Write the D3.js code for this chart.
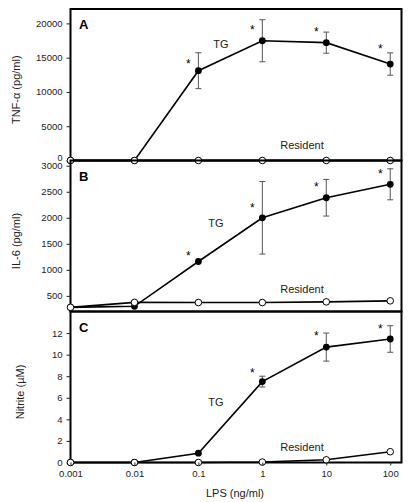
<!DOCTYPE html>
<html>
<head>
<meta charset="utf-8">
<script src="https://cdn.jsdelivr.net/npm/d3@7"></script>
<style>
  html, body { margin: 0; padding: 0; background: #fff; }
  svg { display: block; font-family: "Liberation Sans", Arial, Helvetica, sans-serif; }
</style>
</head>
<body>
<svg id="chart" width="410" height="502"></svg>
<script>
// ---------- data ----------
const doses = [0.001, 0.01, 0.1, 1, 10, 100];
const xTickLabels = ["0.001", "0.01", "0.1", "1", "10", "100"];

const tnfTG = [0, 0, 13100, 17470, 17190, 14070];
const tnfTGErr = [0, 0, 2620, 3070, 1540, 1630];
const tnfRes = [0, 0, 0, 0, 0, 0];
const tnfStars = [null, null, 14300, 19400, 19000, 16600];
const tnfTicks = [0, 5000, 10000, 15000, 20000];

const il6TG = [280, 300, 1160, 2000, 2385, 2643];
const il6TGErr = [0, 0, 0, 697, 352, 298];
const il6Res = [280, 375, 372, 372, 385, 405];
const il6Stars = [null, null, 1300, 2230, 2620, 2870];
const il6Ticks = [500, 1000, 1500, 2000, 2500, 3000];

const nitTG = [0, 0, 0.86, 7.5, 10.7, 11.45];
const nitTGErr = [0, 0, 0, 0.5, 1.3, 1.23];
const nitRes = [0, 0, 0, 0.04, 0.25, 1.0];
const nitStars = [null, null, null, 8.5, 11.9, 12.6];
const nitTicks = [0, 2, 4, 6, 8, 10, 12];

// ---------- layout ----------
const svg = d3.select("#chart");
const left = 70.5, right = 401.5;
const x = d3.scaleLog().domain([0.001, 150]).range([left, right]);

const panels = [
  { letter: "A", label: "TNF-\u03b1 (pg/ml)", top: 9, bottom: 160.5, domain: [0, 22100],
    ticks: tnfTicks, tg: tnfTG, err: tnfTGErr, res: tnfRes, stars: tnfStars,
    tgLabel: [221, 48], resLabel: [302, 149], labelX: 20 },
  { letter: "B", label: "IL-6 (pg/ml)", top: 160.5, bottom: 311.5, domain: [200, 3100],
    ticks: il6Ticks, tg: il6TG, err: il6TGErr, res: il6Res, stars: il6Stars,
    tgLabel: [216, 227], resLabel: [302, 293], labelX: 20 },
  { letter: "C", label: "Nitrite (\u00b5M)", top: 311.5, bottom: 462.5, domain: [0, 14],
    ticks: nitTicks, tg: nitTG, err: nitTGErr, res: nitRes, stars: nitStars,
    tgLabel: [216, 406], resLabel: [302, 451], labelX: 24 }
];

panels.forEach((p, pi) => {
  const y = d3.scaleLinear().domain(p.domain).range([p.bottom, p.top]);
  const g = svg.append("g");

  // frame
  g.append("rect")
    .attr("x", left).attr("y", p.top)
    .attr("width", right - left).attr("height", p.bottom - p.top)
    .attr("fill", "none").attr("stroke", "#000").attr("stroke-width", 2);

  // y axis
  const ya = g.append("g").attr("transform", `translate(${left},0)`)
    .call(d3.axisLeft(y).tickValues(p.ticks).tickSize(4).tickPadding(4)
      .tickFormat(d3.format("d")));
  ya.select(".domain").remove();
  ya.selectAll(".tick line").attr("stroke", "#222");
  ya.selectAll(".tick text").attr("fill", "#222")
    .style("font-size", "9.5px").style("font-family", "'Liberation Sans', Arial, sans-serif");
  if (pi === 0) {
    // the "0" of panel A sits just above the "3000" of panel B, as in the original
    ya.selectAll(".tick text").filter(d => d === 0)
      .attr("dy", "-0.05em").style("font-size", "9px");
  }

  // y label
  g.append("text")
    .attr("transform", `translate(${p.labelX},${(p.top + p.bottom) / 2 + 5}) rotate(-90)`)
    .attr("text-anchor", "middle")
    .style("font-size", "11px").attr("fill", "#222")
    .text(p.label);

  // panel letter
  g.append("text")
    .attr("x", 79).attr("y", p.top + 20)
    .style("font-size", "13px").style("font-weight", "bold")
    .text(p.letter);

  const line = d3.line().x((d, i) => x(doses[i])).y(d => y(d));

  // error bars
  const eb = g.append("g").attr("stroke", "#555").attr("stroke-width", 1);
  p.err.forEach((e, i) => {
    if (!e) return;
    const cx = x(doses[i]);
    const y1 = y(p.tg[i] + e), y2 = y(p.tg[i] - e);
    eb.append("line").attr("x1", cx).attr("x2", cx).attr("y1", y1).attr("y2", y2);
    eb.append("line").attr("x1", cx - 3).attr("x2", cx + 3).attr("y1", y1).attr("y2", y1);
    eb.append("line").attr("x1", cx - 3).attr("x2", cx + 3).attr("y1", y2).attr("y2", y2);
  });

  // TG line
  g.append("path").datum(p.tg).attr("d", line)
    .attr("fill", "none").attr("stroke", "#000").attr("stroke-width", 1.6);
  g.selectAll(".tg").data(p.tg).enter().append("circle")
    .attr("cx", (d, i) => x(doses[i])).attr("cy", d => y(d)).attr("r", 3.4)
    .attr("fill", "#000");

  // Resident line
  g.append("path").datum(p.res).attr("d", line)
    .attr("fill", "none").attr("stroke", "#000").attr("stroke-width", 1.6);
  g.selectAll(".res").data(p.res).enter().append("circle")
    .attr("cx", (d, i) => x(doses[i])).attr("cy", d => y(d)).attr("r", 3.3)
    .attr("fill", "#fff").attr("stroke", "#000").attr("stroke-width", 1);

  // stars
  p.stars.forEach((s, i) => {
    if (s === null) return;
    g.append("text")
      .attr("x", x(doses[i]) - 10).attr("y", y(s) + 6)
      .attr("text-anchor", "middle")
      .style("font-size", "12px")
      .text("*");
  });

  // series labels
  g.append("text").attr("x", p.tgLabel[0]).attr("y", p.tgLabel[1])
    .attr("text-anchor", "middle").style("font-size", "11px").attr("fill", "#222").text("TG");
  g.append("text").attr("x", p.resLabel[0]).attr("y", p.resLabel[1])
    .attr("text-anchor", "middle").style("font-size", "11px").attr("fill", "#222").text("Resident");

  // x axis on bottom panel
  if (pi === panels.length - 1) {
    const xa = g.append("g").attr("transform", `translate(0,${p.bottom})`)
      .call(d3.axisBottom(x).tickValues(doses).tickSize(3).tickPadding(5)
        .tickFormat((d, i) => xTickLabels[i]));
    xa.select(".domain").remove();
    xa.selectAll(".tick line").attr("stroke", "#222");
    xa.selectAll(".tick text").attr("fill", "#222")
      .style("font-size", "9.5px").style("font-family", "'Liberation Sans', Arial, sans-serif");
  }
});

svg.append("text")
  .attr("x", 235).attr("y", 497)
  .attr("text-anchor", "middle")
  .style("font-size", "11px").attr("fill", "#222")
  .text("LPS (ng/ml)");
</script>
</body>
</html>
